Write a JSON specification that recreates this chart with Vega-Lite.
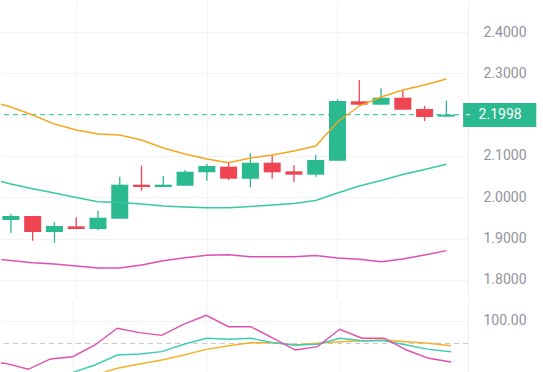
{
  "$schema": "https://vega.github.io/schema/vega-lite/v6.json",
  "padding": 0,
  "autosize": {"type": "pad"},
  "background": "#ffffff",
  "spacing": 0,
  "config": {
    "view": {"stroke": null},
    "axis": {"labelFont": "Roboto", "labelFontSize": 14, "labelColor": "#8f949c", "gridColor": "#f2f3f5", "gridWidth": 1, "ticks": false, "title": null}
  },
  "datasets": {
    "candles": [
      {"i": 0, "open": 1.9448, "close": 1.9545, "high": 1.9593, "low": 1.9133},
      {"i": 1, "open": 1.9545, "close": 1.9157, "high": 1.9550, "low": 1.8947},
      {"i": 2, "open": 1.9157, "close": 1.9303, "high": 1.9400, "low": 1.8898},
      {"i": 3, "open": 1.9295, "close": 1.9230, "high": 1.9513, "low": 1.9225},
      {"i": 4, "open": 1.9230, "close": 1.9504, "high": 1.9673, "low": 1.9206},
      {"i": 5, "open": 1.9479, "close": 2.0303, "high": 2.0496, "low": 1.9479},
      {"i": 6, "open": 2.0303, "close": 2.0247, "high": 2.0763, "low": 2.0157},
      {"i": 7, "open": 2.0247, "close": 2.0303, "high": 2.0513, "low": 2.0245},
      {"i": 8, "open": 2.0278, "close": 2.0617, "high": 2.0659, "low": 2.0278},
      {"i": 9, "open": 2.0603, "close": 2.0755, "high": 2.0804, "low": 2.0400},
      {"i": 10, "open": 2.0739, "close": 2.0448, "high": 2.0835, "low": 2.0416},
      {"i": 11, "open": 2.0448, "close": 2.0835, "high": 2.1063, "low": 2.0240},
      {"i": 12, "open": 2.0835, "close": 2.0603, "high": 2.1022, "low": 2.0448},
      {"i": 13, "open": 2.0627, "close": 2.0545, "high": 2.0772, "low": 2.0368},
      {"i": 14, "open": 2.0545, "close": 2.0901, "high": 2.1022, "low": 2.0496},
      {"i": 15, "open": 2.0884, "close": 2.2329, "high": 2.2370, "low": 2.0884},
      {"i": 16, "open": 2.2322, "close": 2.2240, "high": 2.2838, "low": 2.2225},
      {"i": 17, "open": 2.2240, "close": 2.2409, "high": 2.2637, "low": 2.2240},
      {"i": 18, "open": 2.2409, "close": 2.2119, "high": 2.2579, "low": 2.2119},
      {"i": 19, "open": 2.2136, "close": 2.1942, "high": 2.2208, "low": 2.1845},
      {"i": 20, "open": 2.1950, "close": 2.1998, "high": 2.2337, "low": 2.1950}
    ],
    "bands": [
      {"i": -1, "upper": 2.2330, "mid": 2.0453, "lower": 1.8516},
      {"i": 0, "upper": 2.2184, "mid": 2.0320, "lower": 1.8467},
      {"i": 1, "upper": 2.1990, "mid": 2.0206, "lower": 1.8414},
      {"i": 2, "upper": 2.1772, "mid": 2.0102, "lower": 1.8383},
      {"i": 3, "upper": 2.1627, "mid": 1.9993, "lower": 1.8334},
      {"i": 4, "upper": 2.1530, "mid": 1.9891, "lower": 1.8286},
      {"i": 5, "upper": 2.1506, "mid": 1.9872, "lower": 1.8286},
      {"i": 6, "upper": 2.1385, "mid": 1.9835, "lower": 1.8358},
      {"i": 7, "upper": 2.1191, "mid": 1.9787, "lower": 1.8462},
      {"i": 8, "upper": 2.1046, "mid": 1.9763, "lower": 1.8535},
      {"i": 9, "upper": 2.0925, "mid": 1.9746, "lower": 1.8593},
      {"i": 10, "upper": 2.0835, "mid": 1.9746, "lower": 1.8608},
      {"i": 11, "upper": 2.0949, "mid": 1.9775, "lower": 1.8559},
      {"i": 12, "upper": 2.1022, "mid": 1.9811, "lower": 1.8559},
      {"i": 13, "upper": 2.1119, "mid": 1.9847, "lower": 1.8559},
      {"i": 14, "upper": 2.1240, "mid": 1.9920, "lower": 1.8588},
      {"i": 15, "upper": 2.1821, "mid": 2.0102, "lower": 1.8528},
      {"i": 16, "upper": 2.2208, "mid": 2.0271, "lower": 1.8496},
      {"i": 17, "upper": 2.2426, "mid": 2.0404, "lower": 1.8438},
      {"i": 18, "upper": 2.2596, "mid": 2.0550, "lower": 1.8504},
      {"i": 19, "upper": 2.2717, "mid": 2.0671, "lower": 1.8600},
      {"i": 20, "upper": 2.2862, "mid": 2.0797, "lower": 1.8705}
    ],
    "kdj": [
      {"i": -1, "k": 52, "d": 47, "j": 64},
      {"i": 0, "k": 50, "d": 46, "j": 62.1},
      {"i": 1, "k": 47, "d": 45, "j": 56.9},
      {"i": 2, "k": 48, "d": 46, "j": 66.1},
      {"i": 3, "k": 54.1, "d": 48, "j": 68.1},
      {"i": 4, "k": 60.7, "d": 51.8, "j": 78.6},
      {"i": 5, "k": 69.6, "d": 57.8, "j": 93.5},
      {"i": 6, "k": 70.5, "d": 61.6, "j": 89.6},
      {"i": 7, "k": 72.6, "d": 65.2, "j": 87.2},
      {"i": 8, "k": 79.2, "d": 69.6, "j": 97.3},
      {"i": 9, "k": 84.6, "d": 74.7, "j": 105.1},
      {"i": 10, "k": 83.7, "d": 77.9, "j": 94.9},
      {"i": 11, "k": 84.6, "d": 80.6, "j": 94.9},
      {"i": 12, "k": 80.6, "d": 80.6, "j": 84.6},
      {"i": 13, "k": 78.6, "d": 78.6, "j": 74.1},
      {"i": 14, "k": 79.2, "d": 80.1, "j": 77.1},
      {"i": 15, "k": 84.6, "d": 81.5, "j": 92.6},
      {"i": 16, "k": 82.4, "d": 82.4, "j": 84.6},
      {"i": 17, "k": 82.4, "d": 83.0, "j": 84.6},
      {"i": 18, "k": 78.6, "d": 81.5, "j": 74.1},
      {"i": 19, "k": 74.7, "d": 80.1, "j": 66.7},
      {"i": 20, "k": 72.6, "d": 77.9, "j": 63.4}
    ],
    "last": [{"price": 2.1998, "label": "2.1998"}]
  },
  "vconcat": [
    {
      "width": 467,
      "height": 300,
      "layer": [
        {
          "data": {"name": "candles"},
          "mark": {"type": "rule", "strokeWidth": 1.3, "clip": true},
          "encoding": {
            "x": {"field": "i", "type": "quantitative", "scale": {"domain": [-0.2247, 20.764], "nice": false, "zero": false},
                  "axis": {"values": [3, 9, 15], "labels": false, "domain": false, "grid": true}},
            "y": {"field": "low", "type": "quantitative",
              "scale": {"domain": [1.7511, 2.4775], "nice": false, "zero": false},
              "axis": {"orient": "right", "values": [1.8, 1.9, 2.0, 2.1, 2.3, 2.4], "format": ".4f", "labelPadding": 15, "grid": true, "domainColor": "#eef0f2", "labelOverlap": false}},
            "y2": {"field": "high"},
            "color": {"condition": {"test": "datum.close >= datum.open", "value": "#2bb98f"}, "value": "#ef4452"}
          }
        },
        {
          "data": {"name": "last"},
          "mark": {"type": "rule", "color": "#2bb98f", "strokeDash": [5, 4], "strokeWidth": 1},
          "encoding": {"y": {"field": "price", "type": "quantitative"}}
        },
        {
          "data": {"name": "candles"},
          "mark": {"type": "bar", "size": 17, "clip": true},
          "encoding": {
            "x": {"field": "i", "type": "quantitative"},
            "y": {"field": "open", "type": "quantitative"},
            "y2": {"field": "close"},
            "color": {"condition": {"test": "datum.close >= datum.open", "value": "#2bb98f"}, "value": "#ef4452"}
          }
        },
        {
          "data": {"name": "bands"},
          "mark": {"type": "line", "color": "#f3a61f", "strokeWidth": 1.4, "clip": true},
          "encoding": {"x": {"field": "i", "type": "quantitative"}, "y": {"field": "upper", "type": "quantitative"}}
        },
        {
          "data": {"name": "bands"},
          "mark": {"type": "line", "color": "#36c9a6", "strokeWidth": 1.4, "clip": true},
          "encoding": {"x": {"field": "i", "type": "quantitative"}, "y": {"field": "mid", "type": "quantitative"}}
        },
        {
          "data": {"name": "bands"},
          "mark": {"type": "line", "color": "#df4fb1", "strokeWidth": 1.4, "clip": true},
          "encoding": {"x": {"field": "i", "type": "quantitative"}, "y": {"field": "lower", "type": "quantitative"}}
        },
        {
          "data": {"name": "last"},
          "mark": {"type": "rect", "color": "#2bb98f"},
          "encoding": {
            "x": {"datum": 20.77, "type": "quantitative"},
            "x2": {"datum": 24.13},
            "y": {"datum": 2.2281, "type": "quantitative"},
            "y2": {"datum": 2.1700}
          }
        },
        {
          "data": {"name": "last"},
          "mark": {"type": "rule", "color": "#ffffff", "strokeWidth": 1},
          "encoding": {
            "x": {"datum": 20.9, "type": "quantitative"},
            "x2": {"datum": 21.1},
            "y": {"field": "price", "type": "quantitative"}
          }
        },
        {
          "data": {"name": "last"},
          "mark": {"type": "text", "color": "#ffffff", "font": "Roboto", "fontSize": 14, "align": "left", "baseline": "middle"},
          "encoding": {
            "x": {"datum": 21.48, "type": "quantitative"},
            "y": {"field": "price", "type": "quantitative"},
            "text": {"field": "label"}
          }
        }
      ]
    },
    {
      "width": 467,
      "height": 72,
      "layer": [
        {
          "data": {"values": [{"level": 80}]},
          "mark": {"type": "rule", "color": "#c4c6ca", "strokeDash": [5, 4], "strokeWidth": 1},
          "encoding": {"y": {"field": "level", "type": "quantitative",
            "scale": {"domain": [54.46, 118.75], "nice": false, "zero": false},
            "axis": {"orient": "right", "values": [100], "format": ".2f", "labelPadding": 15, "grid": true, "domainColor": "#eef0f2"}}}
        },
        {
          "data": {"name": "kdj"},
          "mark": {"type": "line", "color": "#f3b12c", "strokeWidth": 1.4, "clip": true},
          "encoding": {
            "x": {"field": "i", "type": "quantitative", "scale": {"domain": [-0.2247, 20.764], "nice": false, "zero": false},
                  "axis": {"values": [3, 9, 15], "labels": false, "domain": false, "grid": true}},
            "y": {"field": "d", "type": "quantitative"}}
        },
        {
          "data": {"name": "kdj"},
          "mark": {"type": "line", "color": "#3ccdb3", "strokeWidth": 1.4, "clip": true},
          "encoding": {"x": {"field": "i", "type": "quantitative"}, "y": {"field": "k", "type": "quantitative"}}
        },
        {
          "data": {"name": "kdj"},
          "mark": {"type": "line", "color": "#df4fb1", "strokeWidth": 1.4, "clip": true},
          "encoding": {"x": {"field": "i", "type": "quantitative"}, "y": {"field": "j", "type": "quantitative"}}
        }
      ]
    }
  ]
}
